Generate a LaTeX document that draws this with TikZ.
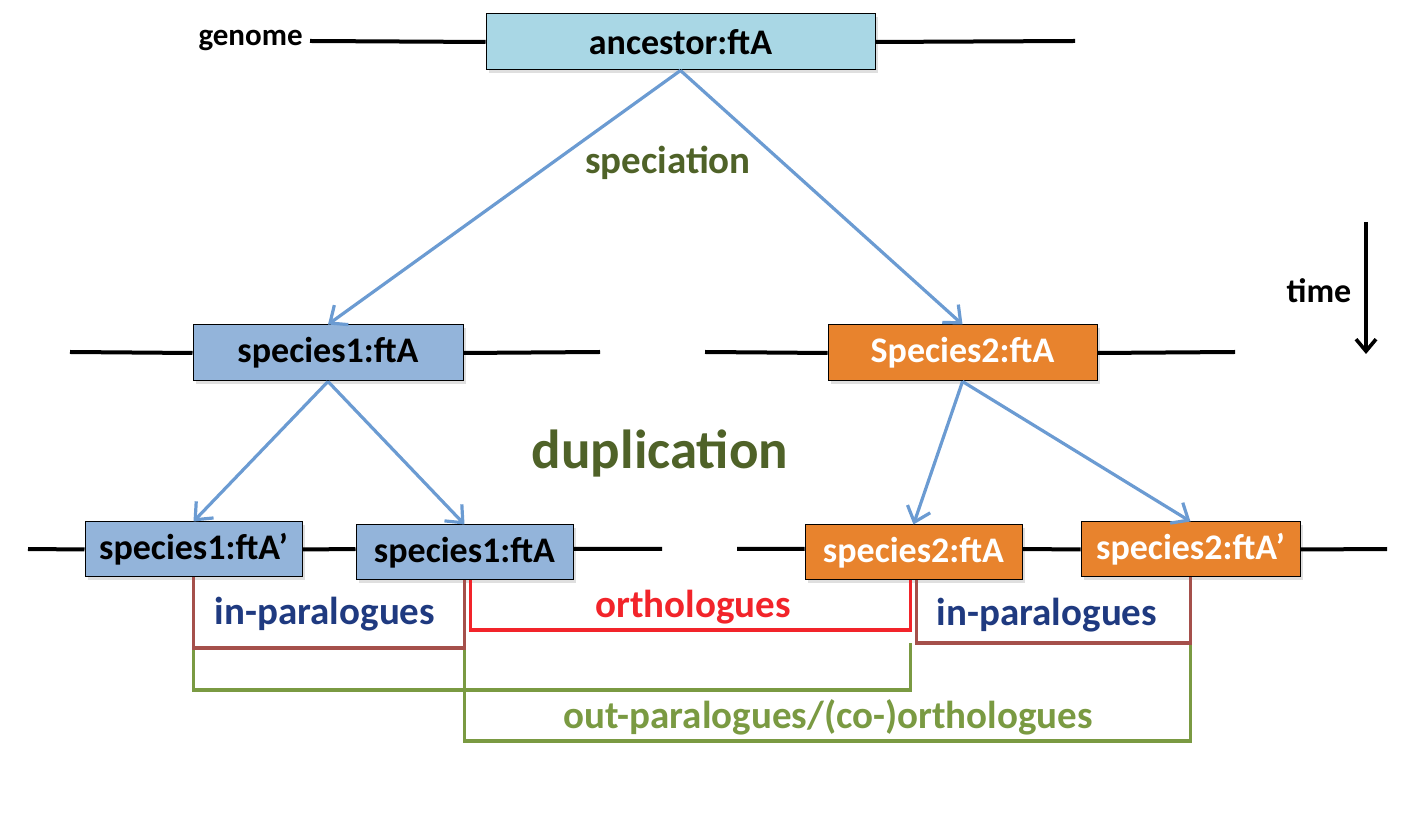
\documentclass[tikz,border=0pt]{standalone}
\usepackage{fontspec}
\setmainfont{Carlito}
\usetikzlibrary{arrows.meta,shadows}
\definecolor{ancfill}{HTML}{A9D7E5}
\definecolor{bluefill}{HTML}{93B4DA}
\definecolor{orangefill}{HTML}{E8832D}
\definecolor{arrowblue}{HTML}{6B9BD2}
\definecolor{olivetext}{HTML}{4F6228}
\definecolor{navytext}{HTML}{1F3A80}
\definecolor{orthored}{HTML}{F2242A}
\definecolor{parabrown}{HTML}{A5504B}
\definecolor{outgreen}{HTML}{7A9A42}
\tikzset{
  genebox/.style={draw=black, line width=0.5pt, inner sep=0pt,
    font=\bfseries\fontsize{18}{20}\selectfont,
    drop shadow={opacity=0.25, shadow xshift=1.5pt, shadow yshift=-1.5pt}},
  bluebox/.style={genebox, fill=bluefill, text=black},
  orangebox/.style={genebox, fill=orangefill, text=white},
  genomeline/.style={line width=2pt, black},
  evolarrow/.style={line width=1.6pt, arrowblue, -{Straight Barb[length=7pt,width=12pt,line width=1.6pt]}},
  bracket/.style={line width=1.8pt},
  lbl/.style={font=\bfseries\fontsize{19.5}{22}\selectfont, inner sep=0pt}
}
\begin{document}
\begin{tikzpicture}[x=0.5pt,y=-0.5pt]
\useasboundingbox (0,0) rectangle (1428,822);

% genome lines free ends
\coordinate (a0) at (310,41);   \coordinate (a1) at (1075,41);
\coordinate (b0) at (70,352);   \coordinate (b1) at (600,352);
\coordinate (c0) at (705,352);  \coordinate (c1) at (1235,352);
\coordinate (d0) at (28,549);   \coordinate (d1) at (662,549);
\coordinate (e0) at (737,549);  \coordinate (e1) at (1387,549);

% nodes
\node[genebox, fill=ancfill, minimum width=194.5pt, minimum height=28pt] (anc) at (680.5,42) {ancestor:ftA};
\node[bluebox, minimum width=135pt, minimum height=28pt] (sp1) at (328,353) {species1:ftA};
\node[orangebox, minimum width=134.5pt, minimum height=28pt] (sp2) at (962.5,353) {Species2:ftA};
\node[bluebox, minimum width=108.5pt, minimum height=27.5pt] (s1p) at (193.5,549.5) {species1:ftA’};
\node[bluebox, minimum width=108.5pt, minimum height=27.5pt] (s1) at (464.5,552.5) {species1:ftA};
\node[orangebox, minimum width=108.5pt, minimum height=27.5pt] (s2) at (913.5,552.5) {species2:ftA};
\node[orangebox, minimum width=109.5pt, minimum height=27.5pt] (s2p) at (1190.5,549.5) {species2:ftA’};

% genome lines
\draw[genomeline] (a0) -- (anc.west) (anc.east) -- (a1);
\draw[genomeline] (b0) -- (sp1.west) (sp1.east) -- (b1);
\draw[genomeline] (c0) -- (sp2.west) (sp2.east) -- (c1);
\draw[genomeline] (d0) -- (s1p.west) (s1p.east) -- (s1.west |- d0) (s1.east |- d0) -- (d1);
\draw[genomeline] (e0) -- (s2.west |- e0) (s2.east |- e0) -- (s2p.west) (s2p.east) -- (e1);

% labels
\node[font=\bfseries\fontsize{15.5}{18}\selectfont, anchor=east, inner sep=0pt] (genome) at (303,40) {genome};
\node[lbl, text=olivetext] (speciation) at (668,163) {speciation};
\node[font=\bfseries\fontsize{27.5}{30}\selectfont, text=olivetext, inner sep=0pt] (duplication) at (660,453) {duplication};
\node[font=\bfseries\fontsize{17}{20}\selectfont, inner sep=0pt] (time) at (1319,291) {time};

% time arrow
\coordinate (t0) at (1366,222);
\coordinate (t1) at (1366,354);
\draw[line width=1.8pt, -{Straight Barb[length=6pt,width=10pt,line width=1.8pt]}] (t0) -- (t1);

% evolution arrows
\draw[evolarrow] (anc.south) -- (sp1.north);
\draw[evolarrow] (anc.south) -- (sp2.north);
\draw[evolarrow] (sp1.south) -- (s1p.north);
\draw[evolarrow] (sp1.south) -- (s1.north);
\draw[evolarrow] (sp2.south) -- (s2.north);
\draw[evolarrow] (sp2.south) -- (s2p.north);

% brackets
\coordinate (ipL) at (329,648);
\coordinate (orY) at (690,630);
\coordinate (ipR) at (1050,643);
\coordinate (g1) at (550,690);
\coordinate (g2) at (830,741);

\draw[bracket, outgreen] (s1p.south |- ipL) |- (g1) -| ([xshift=-1.5]s2.south |- ipR);
\draw[bracket, outgreen] (s1.south |- ipL) |- (g2) -| (s2p.south |- ipR);
\draw[bracket, parabrown] (s1p.south) |- (ipL) -| (s1.south);
\draw[bracket, orthored] ([xshift=3]s1.south) |- (orY) -| ([xshift=-1.5]s2.south);
\draw[bracket, parabrown] ([xshift=1.5]s2.south) |- (ipR) -| (s2p.south);

\node[lbl, text=navytext] (inparL) at (325,614) {in-paralogues};
\node[lbl, text=orthored] (ortho) at (693,607) {orthologues};
\node[lbl, text=navytext] (inparR) at (1047,615) {in-paralogues};
\node[lbl, text=outgreen] (outpar) at (828,717) {out-paralogues/(co-)orthologues};
\end{tikzpicture}
\end{document}
